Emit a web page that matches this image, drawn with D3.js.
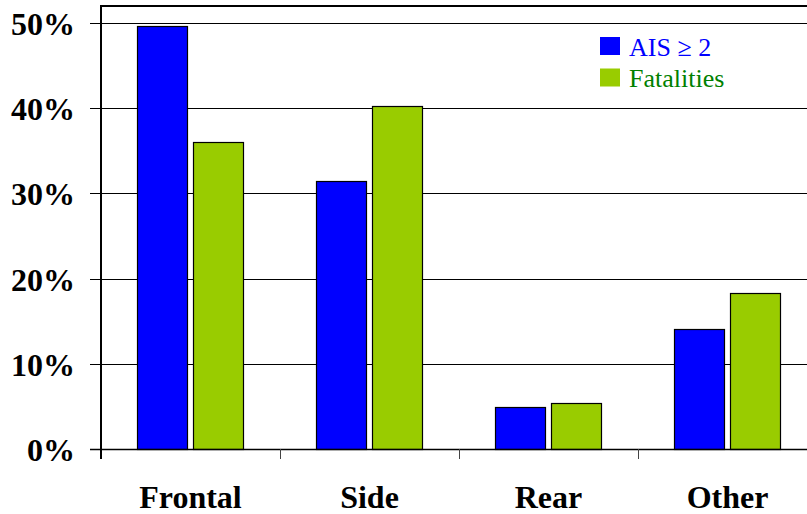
<!DOCTYPE html>
<html>
<head>
<meta charset="utf-8">
<script src="https://cdn.jsdelivr.net/npm/d3@7"></script>
<style>
  html, body { margin: 0; padding: 0; background: #fff; }
  svg { display: block; }
  svg text { font-family: "Liberation Serif", "Times New Roman", Times, serif; }
</style>
</head>
<body>
<svg id="chart" width="807" height="514"></svg>
<script>
const categories = ["Frontal", "Side", "Rear", "Other"];
const seriesNames = ["AIS \u2265 2", "Fatalities"];
const aisValues = [49.7, 31.4, 4.9, 14.1];
const fatalityValues = [36.0, 40.3, 5.4, 18.3];
const yTicks = [0, 10, 20, 30, 40, 50];
const yTickLabels = ["0%", "10%", "20%", "30%", "40%", "50%"];
const barColors = ["#0000ff", "#99cc00"];
const legendTextColors = ["#0000ff", "#008000"];

(function () {
const svg = d3.select("#chart");
const plotLeft = 101, plotRight = 817, plotTop = 6, plotBottom = 449;

const x = d3.scaleBand().domain(categories).range([plotLeft, plotRight]).paddingInner(0).paddingOuter(0);
const bw = x.bandwidth();
const x1 = d3.scaleBand().domain(seriesNames)
  .range([bw * 0.2, bw * 0.792]).paddingInner(0.107).paddingOuter(0);
const y = d3.scaleLinear().domain([0, 52]).range([plotBottom, plotTop]);

// gridlines
svg.append("g").selectAll("line").data(yTicks.filter(d => d > 0)).join("line")
  .attr("x1", 90).attr("x2", 808)
  .attr("y1", d => Math.round(y(d)) + 0.5).attr("y2", d => Math.round(y(d)) + 0.5)
  .attr("stroke", "#000").attr("stroke-width", 1);

// bars
const data = [];
categories.forEach((c, i) => {
  data.push({cat: c, s: seriesNames[0], v: aisValues[i], k: 0});
  data.push({cat: c, s: seriesNames[1], v: fatalityValues[i], k: 1});
});
svg.append("g").selectAll("rect").data(data).join("rect")
  .attr("x", d => Math.round(x(d.cat) + x1(d.s)) + 0.5)
  .attr("y", d => Math.round(y(d.v)) + 0.5)
  .attr("width", Math.round(x1.bandwidth()))
  .attr("height", d => Math.round(y(0)) - Math.round(y(d.v)))
  .attr("fill", d => barColors[d.k])
  .attr("stroke", "#000").attr("stroke-width", 1.2);

// axes / frame
svg.append("line").attr("x1", 90).attr("x2", 808).attr("y1", plotBottom + 0.5).attr("y2", plotBottom + 0.5)
  .attr("stroke", "#000").attr("stroke-width", 1.5);
svg.append("line").attr("x1", 100).attr("x2", 808).attr("y1", plotTop).attr("y2", plotTop)
  .attr("stroke", "#000").attr("stroke-width", 2);
svg.append("line").attr("x1", plotLeft).attr("x2", plotLeft).attr("y1", plotTop - 1).attr("y2", plotBottom + 10)
  .attr("stroke", "#000").attr("stroke-width", 2);

// x ticks at band boundaries
svg.append("g").selectAll("line").data(categories.slice(1)).join("line")
  .attr("x1", d => Math.round(x(d)) + 0.5).attr("x2", d => Math.round(x(d)) + 0.5)
  .attr("y1", plotBottom).attr("y2", plotBottom + 10)
  .attr("stroke", "#444").attr("stroke-width", 1);

// y tick labels
svg.append("g").selectAll("text").data(yTicks).join("text")
  .attr("x", 75).attr("y", d => y(d) + 12)
  .attr("text-anchor", "end")
  .style("font-weight", "bold").style("font-size", "32px")
  .attr("fill", "#000")
  .text((d, i) => yTickLabels[i]);

// x labels
svg.append("g").selectAll("text").data(categories).join("text")
  .attr("x", d => x(d) + bw / 2).attr("y", 508)
  .attr("text-anchor", "middle")
  .style("font-weight", "bold").style("font-size", "32px")
  .attr("fill", "#000")
  .text(d => d);

// legend
const lg = svg.append("g");
seriesNames.forEach((s, i) => {
  lg.append("rect").attr("x", 600).attr("y", 37 + i * 31.5).attr("width", 20).attr("height", 18)
    .attr("fill", barColors[i]);
  lg.append("text").attr("x", 629).attr("y", 56 + i * 31)
    .style("font-size", "26px").style("font-weight", "normal")
    .attr("fill", legendTextColors[i]).text(s);
});
})();
</script>
</body>
</html>
